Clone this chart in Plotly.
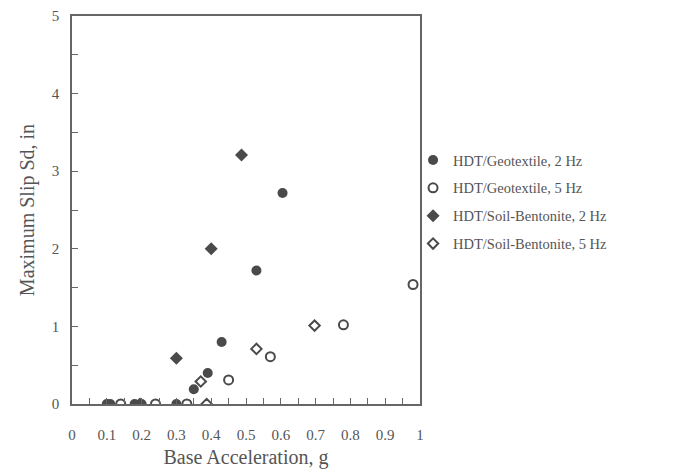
import plotly.graph_objects as go

# Data
geo2_x = [0.10, 0.11, 0.18, 0.20, 0.30, 0.35, 0.39, 0.43, 0.53, 0.605]
geo2_y = [0.0, 0.0, 0.0, 0.0, 0.0, 0.19, 0.40, 0.80, 1.72, 2.72]

geo5_x = [0.14, 0.24, 0.33, 0.45, 0.57, 0.78, 0.98]
geo5_y = [0.0, 0.0, 0.0, 0.31, 0.61, 1.02, 1.54]

sb2_x = [0.195, 0.30, 0.40, 0.487]
sb2_y = [0.0, 0.59, 2.00, 3.21]

sb5_x = [0.387, 0.37, 0.53, 0.697]
sb5_y = [0.0, 0.29, 0.71, 1.01]

names = ["HDT/Geotextile, 2 Hz", "HDT/Geotextile, 5 Hz",
         "HDT/Soil-Bentonite, 2 Hz", "HDT/Soil-Bentonite, 5 Hz"]

x_ticks = [0, 0.1, 0.2, 0.3, 0.4, 0.5, 0.6, 0.7, 0.8, 0.9, 1]
x_labels = ["0", "0.1", "0.2", "0.3", "0.4", "0.5", "0.6", "0.7", "0.8", "0.9", "1"]
y_ticks = [0, 1, 2, 3, 4, 5]

ink = "#4a4a4a"
txt = "#555555"

fig = go.Figure()
fig.add_trace(go.Scatter(x=geo2_x, y=geo2_y, mode="markers", name=names[0], legendgroup="a",
                         marker=dict(symbol="circle", size=10, color=ink, line=dict(width=0))))
fig.add_trace(go.Scatter(x=geo5_x, y=geo5_y, mode="markers", name=names[1], legendgroup="b",
                         marker=dict(symbol="circle-open", size=9, color=ink, line=dict(width=2))))
fig.add_trace(go.Scatter(x=sb2_x, y=sb2_y, mode="markers", name=names[2], legendgroup="c",
                         marker=dict(symbol="diamond", size=10, color=ink, line=dict(width=0))))
fig.add_trace(go.Scatter(x=sb5_x, y=sb5_y, mode="markers", name=names[3], legendgroup="d",
                         marker=dict(symbol="diamond-open", size=8, color=ink, line=dict(width=2))))

axis_common = dict(showgrid=False, zeroline=False, showline=True, linecolor="#666666",
                   linewidth=1.5, mirror=True, ticks="inside", tickcolor="#666666",
                   ticklen=6, tickwidth=1.2, automargin=False,
                   tickfont=dict(family="Liberation Serif", size=15, color=txt))

fig.update_xaxes(range=[0, 1], tickvals=x_ticks, ticktext=x_labels,
                 minor=dict(dtick=0.05, ticks="inside", ticklen=6, tickcolor="#666666"),
                 title=dict(text="Base Acceleration, g", standoff=8,
                            font=dict(family="Liberation Serif", size=20, color=txt)),
                 ticklabelstandoff=16,
                 **axis_common)
fig.update_yaxes(range=[0, 5], tickvals=y_ticks,
                 minor=dict(dtick=0.5, ticks="inside", ticklen=6, tickcolor="#666666"),
                 title=dict(text="Maximum Slip Sd, in", standoff=12,
                            font=dict(family="Liberation Serif", size=20, color=txt)),
                 ticklabelstandoff=8,
                 **axis_common)

fig.update_layout(
    width=677, height=469,
    margin=dict(l=72, r=257, t=16, b=65),
    paper_bgcolor="white", plot_bgcolor="white",
    showlegend=True,
    legend=dict(x=0.98, xanchor="left", y=0.67, yanchor="top",
                font=dict(family="Liberation Serif", size=14.5, color=txt),
                tracegroupgap=6, itemwidth=30, bgcolor="rgba(0,0,0,0)"),
)

fig.write_html("out.html")
